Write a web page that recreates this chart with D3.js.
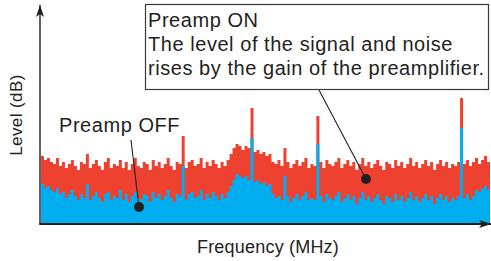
<!DOCTYPE html>
<html>
<head>
<meta charset="utf-8">
<script src="https://cdn.jsdelivr.net/npm/d3@7.9.0/dist/d3.min.js"></script>
<style>
  body { margin: 0; background: #fff; }
  text { font-family: "Liberation Sans", Arial, sans-serif; fill: #231f20; }
</style>
</head>
<body>
<svg id="chart" width="491" height="261"></svg>
<script>
// level readings (arbitrary dB) across the frequency span, Preamp ON
const levelOn = [
  34, 32, 33, 31, 30, 33, 29, 31, 28, 30,
  32, 29, 27, 31, 30, 35, 28, 30, 32, 29,
  27, 31, 33, 28, 30, 29, 32, 28, 31, 27,
  30, 33, 29, 28, 31, 30, 27, 32, 29, 31,
  28, 30, 33, 29, 27, 31, 30, 44, 28, 31,
  32, 29, 30, 33, 28, 31, 29, 32, 30, 28,
  31, 29, 32, 35, 38, 40, 39, 37, 39, 38,
  58, 36, 37, 35, 36, 34, 35, 31, 30, 32,
  29, 38, 31, 28, 30, 32, 29, 31, 33, 28,
  30, 29, 54, 31, 28, 32, 30, 29, 31, 33,
  28, 30, 32, 29, 31, 27, 30, 33, 29, 31,
  28, 30, 32, 29, 27, 31, 30, 28, 32, 29,
  31, 28, 30, 33, 29, 31, 28, 30, 32, 29,
  31, 27, 30, 32, 29, 31, 28, 30, 29, 31,
  63, 30, 32, 29, 31, 33, 30, 32, 34, 31
];
// same span, Preamp OFF
const levelOff = [
  20, 18, 19, 17, 16, 18, 15, 16, 13, 15,
  17, 14, 12, 15, 13, 20, 12, 14, 16, 13,
  11, 15, 16, 12, 14, 13, 17, 12, 15, 11,
  14, 16, 13, 12, 15, 14, 11, 16, 13, 15,
  12, 14, 17, 13, 11, 15, 14, 29, 12, 15,
  16, 13, 14, 17, 12, 15, 13, 16, 14, 12,
  15, 13, 16, 19, 22, 25, 24, 23, 24, 22,
  43, 21, 22, 20, 21, 19, 20, 15, 13, 14,
  12, 24, 14, 11, 13, 15, 12, 14, 16, 12,
  13, 12, 40, 14, 11, 15, 13, 12, 14, 16,
  11, 13, 15, 12, 14, 10, 13, 16, 12, 14,
  11, 13, 15, 12, 10, 14, 13, 11, 15, 12,
  14, 11, 13, 16, 12, 14, 11, 13, 15, 12,
  14, 10, 13, 15, 12, 14, 11, 13, 12, 14,
  48, 13, 15, 12, 14, 17, 16, 18, 19, 17
];
const labelOn = ['Preamp ON', 'The level of the signal and noise', 'rises by the gain of the preamplifier.'];
const labelOff = 'Preamp OFF';
const xTitle = 'Frequency (MHz)';
const yTitle = 'Level (dB)';

const svg = d3.select('#chart');
const x0 = 40, x1 = 490, yBase = 224;

let x = d3.scaleLinear().domain([0, levelOn.length]).range([x0 + 1, x1]);
let y = d3.scaleLinear().domain([0, 100]).range([yBase, 24]);

let bins = d3.range(levelOn.length + 1);
let areaOf = (vals) => d3.area()
  .curve(d3.curveStepAfter)
  .x((i) => x(i))
  .y0(y(0))
  .y1((i) => y(vals[Math.min(i, vals.length - 1)]));

svg.append('path').attr('d', areaOf(levelOn)(bins)).attr('fill', '#ef4130');
svg.append('path').attr('d', areaOf(levelOff)(bins)).attr('fill', '#00aeef');

// axes: bare lines with arrow heads
let defs = svg.append('defs');
defs.append('marker')
  .attr('id', 'arrow')
  .attr('viewBox', '0 0 12 8')
  .attr('refX', 12).attr('refY', 4)
  .attr('markerWidth', 12).attr('markerHeight', 8)
  .attr('markerUnits', 'userSpaceOnUse')
  .attr('orient', 'auto')
  .append('path')
  .attr('d', 'M0,0 L12,4 L0,8 L3,4 Z')
  .attr('fill', '#231f20');

svg.append('line')
  .attr('x1', x0).attr('y1', yBase + 0.5).attr('x2', x0).attr('y2', 5)
  .attr('stroke', '#231f20').attr('stroke-width', 1.4)
  .attr('marker-end', 'url(#arrow)');
svg.append('line')
  .attr('x1', x0 - 0.7).attr('y1', yBase).attr('x2', 491).attr('y2', yBase)
  .attr('stroke', '#231f20').attr('stroke-width', 1.8)
  .attr('marker-end', 'url(#arrow)');

svg.append('text')
  .attr('x', 268).attr('y', 253)
  .attr('text-anchor', 'middle')
  .attr('font-size', 18)
  .attr('letter-spacing', 0.2)
  .text(xTitle);
svg.append('text')
  .attr('transform', 'translate(22,115) rotate(-90)')
  .attr('text-anchor', 'middle')
  .attr('font-size', 17)
  .attr('letter-spacing', 0.4)
  .text(yTitle);

// Preamp ON callout
svg.append('rect')
  .attr('x', 145.5).attr('y', 4.5).attr('width', 343).attr('height', 85)
  .attr('fill', '#fff').attr('stroke', '#3a3a3a').attr('stroke-width', 1.2);
labelOn.forEach((t, i) => {
  svg.append('text')
    .attr('x', 148).attr('y', 27 + i * 24)
    .attr('font-size', 20)
    .attr('letter-spacing', 0.55)
    .text(t);
});
svg.append('line')
  .attr('x1', 319).attr('y1', 90).attr('x2', 366).attr('y2', 179)
  .attr('stroke', '#231f20').attr('stroke-width', 1.1);
svg.append('circle').attr('cx', 366).attr('cy', 179).attr('r', 5).attr('fill', '#231f20');

// Preamp OFF callout
svg.append('text')
  .attr('x', 59).attr('y', 132)
  .attr('font-size', 20)
  .attr('letter-spacing', 0.55)
  .text(labelOff);
svg.append('line')
  .attr('x1', 131).attr('y1', 140).attr('x2', 139).attr('y2', 207)
  .attr('stroke', '#231f20').attr('stroke-width', 1.1);
svg.append('circle').attr('cx', 139).attr('cy', 207).attr('r', 5).attr('fill', '#231f20');
</script>
</body>
</html>
